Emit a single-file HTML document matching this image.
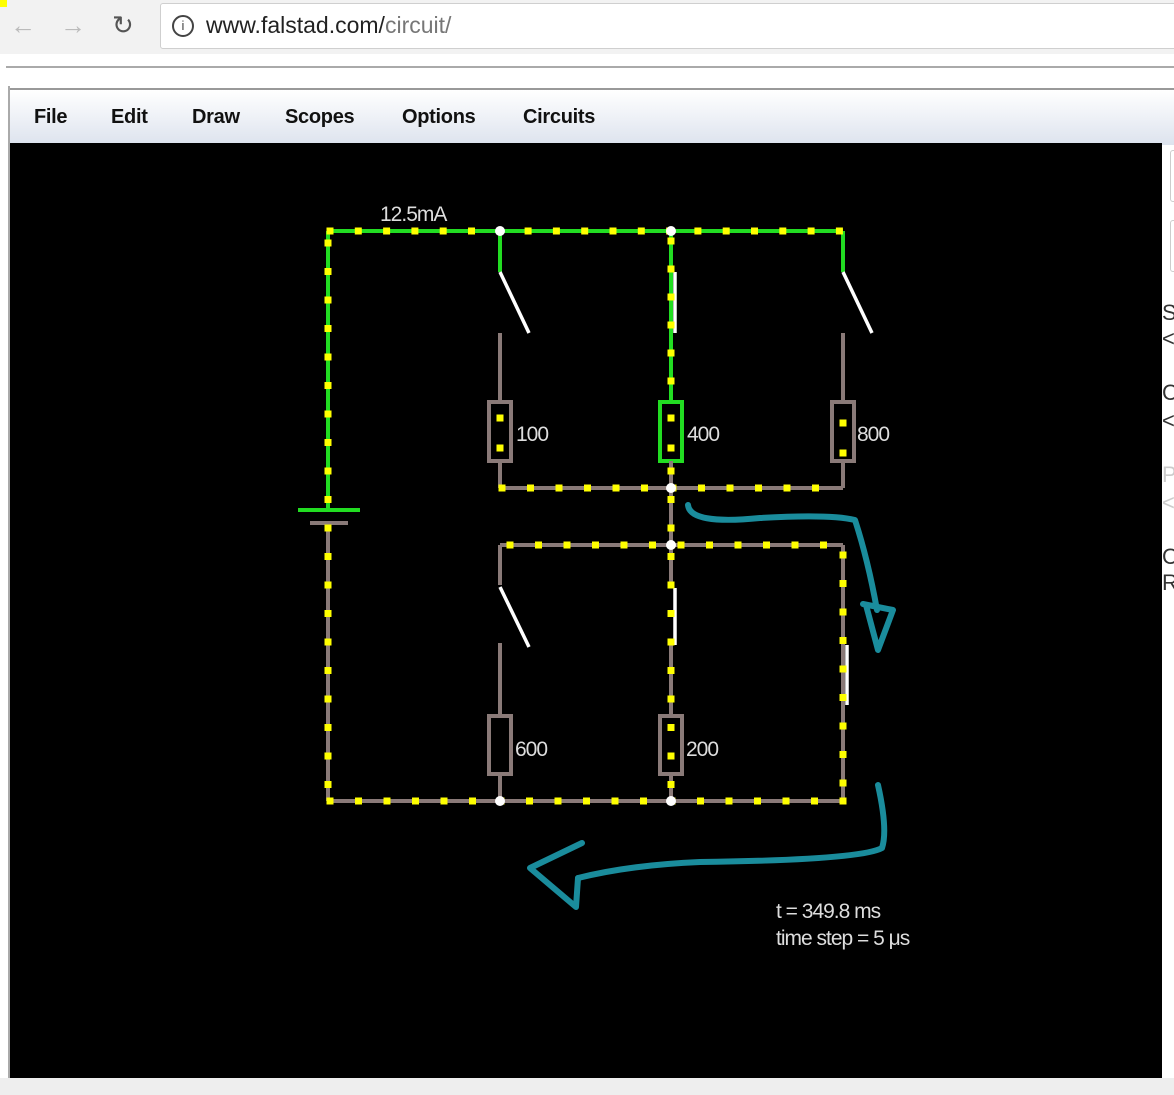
<!DOCTYPE html>
<html><head><meta charset="utf-8"><style>
body{margin:0;width:1174px;height:1095px;overflow:hidden;background:#fff;font-family:"Liberation Sans",sans-serif;position:relative}
.top{position:absolute;left:0;top:0;width:1174px;height:54px;background:#f2f2f2}
.addr{position:absolute;left:160px;top:3px;width:1030px;height:44px;background:#fff;border:1px solid #cfcfcf;border-radius:3px}
.url{position:absolute;left:206px;top:12px;font-size:23px;color:#222}
.url span{color:#777}
.nav{position:absolute;top:10px;font-size:26px;color:#bbb}
.menu{position:absolute;left:10px;top:88px;width:1164px;height:55px;background:linear-gradient(#fff,#dde3ee);border-top:2px solid #999}
.menu span{position:absolute;top:16px;font-size:20px;font-weight:bold;color:#111;letter-spacing:-0.3px}
.canvas{position:absolute;left:10px;top:143px;width:1152px;height:935px;background:#000}
.side{position:absolute;left:1162px;font-size:22px;color:#333}
</style></head><body>
<div class="top"></div>
<div class="nav" style="left:10px">&#8592;</div>
<div class="nav" style="left:60px">&#8594;</div>
<div class="nav" style="left:112px;color:#555">&#8635;</div>
<div class="addr"></div>
<div style="position:absolute;left:172px;top:15px;width:18px;height:18px;border:2px solid #444;border-radius:50%;font-size:13px;text-align:center;line-height:18px;color:#444">i</div>
<div class="url">www.falstad.com/<span>circuit/</span></div>
<div style="position:absolute;left:6px;top:66px;width:1168px;height:2px;background:#aaa"></div>
<div style="position:absolute;left:8px;top:86px;width:2px;height:995px;background:#aaa"></div>
<div class="menu"><span style="left:24px">File</span><span style="left:101px">Edit</span><span style="left:182px">Draw</span><span style="left:275px">Scopes</span><span style="left:392px">Options</span><span style="left:513px">Circuits</span></div>
<div class="canvas"></div>
<div style="position:absolute;left:1170px;top:150px;width:10px;height:50px;border:1px solid #ccc;border-radius:3px"></div>
<div style="position:absolute;left:1170px;top:220px;width:10px;height:50px;border:1px solid #ccc;border-radius:3px"></div>
<div class="side" style="top:300px">S</div><div class="side" style="top:326px">&lt;</div>
<div class="side" style="top:380px">C</div><div class="side" style="top:408px">&lt;</div>
<div class="side" style="top:462px;color:#ccc">P</div><div class="side" style="top:490px;color:#ccc">&lt;</div>
<div class="side" style="top:544px">C</div><div class="side" style="top:570px">R</div>
<div style="position:absolute;left:0;top:1078px;width:1174px;height:17px;background:#eee"></div>
<svg width="1174" height="1095" style="position:absolute;left:0;top:0" xmlns="http://www.w3.org/2000/svg">
<g stroke-width="4" fill="none" stroke-linecap="butt">
<g stroke="#22dd22">
<line x1="328" y1="231" x2="843" y2="231"/>
<line x1="328" y1="231" x2="328" y2="510"/>
<line x1="298" y1="510" x2="360" y2="510"/>
<line x1="500" y1="231" x2="500" y2="272"/>
<line x1="671" y1="231" x2="671" y2="400"/>
<line x1="843" y1="231" x2="843" y2="272"/>
<rect x="660" y="402" width="22" height="59"/>
</g>
<g stroke="#8a7a78">
<line x1="310" y1="523" x2="348" y2="523"/>
<line x1="328" y1="523" x2="328" y2="801"/>
<line x1="328" y1="801" x2="843" y2="801"/>
<line x1="500" y1="333" x2="500" y2="400"/>
<line x1="500" y1="461" x2="500" y2="488"/>
<line x1="843" y1="333" x2="843" y2="400"/>
<line x1="843" y1="461" x2="843" y2="488"/>
<line x1="671" y1="461" x2="671" y2="588"/>
<line x1="500" y1="488" x2="843" y2="488"/>
<line x1="500" y1="545" x2="843" y2="545"/>
<line x1="500" y1="545" x2="500" y2="585"/>
<line x1="500" y1="643" x2="500" y2="715"/>
<line x1="500" y1="775" x2="500" y2="801"/>
<line x1="671" y1="645" x2="671" y2="715"/>
<line x1="671" y1="775" x2="671" y2="801"/>
<line x1="843" y1="545" x2="843" y2="801"/>
<rect x="489" y="402" width="22" height="59"/>
<rect x="832" y="402" width="22" height="59"/>
<rect x="489" y="716" width="22" height="58"/>
<rect x="660" y="716" width="22" height="58"/>
</g>
<g stroke="#fff" stroke-width="3.5">
<line x1="500" y1="272" x2="529" y2="333"/>
<line x1="843" y1="272" x2="872" y2="333"/>
<line x1="675" y1="272" x2="675" y2="333"/>
<line x1="500" y1="587" x2="529" y2="647"/>
<line x1="675" y1="588" x2="675" y2="645"/>
<line x1="847" y1="645" x2="847" y2="705"/>
</g>
</g>
<g id="dots" fill="#ffff00"></g>
<g fill="#fff">
<circle cx="500" cy="231" r="5"/><circle cx="671" cy="231" r="5"/><circle cx="671" cy="488" r="5"/><circle cx="671" cy="545" r="5"/><circle cx="500" cy="801" r="5"/><circle cx="671" cy="801" r="5"/>
</g>
<g fill="#ddd" font-family="Liberation Sans,sans-serif" font-size="21" letter-spacing="-1">
<text x="380" y="221">12.5mA</text>
<text x="516" y="441">100</text><text x="687" y="441">400</text><text x="857" y="441">800</text>
<text x="515" y="756">600</text><text x="686" y="756">200</text>
<text x="776" y="918">t = 349.8 ms</text>
<text x="776" y="945">time step = 5 μs</text>
</g>
<g stroke="#1a8c9c" stroke-width="6" fill="none" stroke-linecap="round" stroke-linejoin="round">
<path d="M688 505 Q690 525 760 518 Q830 514 855 520 Q868 560 877 610"/>
<path d="M863 604 L893 610 L878 650 L866 605"/>
<path d="M878 785 Q888 830 882 848 Q860 860 700 862 Q630 865 578 878"/>
<path d="M582 843 L530 868 L576 907 L578 878"/>
</g>
</svg>
<script>
var g=document.getElementById('dots'),ns='http://www.w3.org/2000/svg';
function seg(x1,y1,x2,y2,step,off){var L=Math.hypot(x2-x1,y2-y1);for(var d=off;d<=L;d+=step){var t=d/L,x=x1+(x2-x1)*t,y=y1+(y2-y1)*t;var r=document.createElementNS(ns,'rect');r.setAttribute('x',x-3.5);r.setAttribute('y',y-3.5);r.setAttribute('width',7);r.setAttribute('height',7);g.appendChild(r);}}
seg(328,231,843,231,28.3,2);
seg(328,231,328,801,28.5,12);
seg(328,801,843,801,28.5,2);
seg(500,488,843,488,28.5,2);
seg(500,545,843,545,28.5,10);
seg(843,545,843,801,28.5,10);
seg(671,231,671,400,28,10);
seg(671,461,671,801,28.5,10);
seg(500,390,500,390,30,0);seg(500,418,500,448,30,0);seg(500,475,500,475,30,0);
seg(843,393,843,393,30,0);seg(843,423,843,453,30,0);seg(843,480,843,480,30,0);
seg(671,418,671,448,30,0);
</script>
</body></html>
